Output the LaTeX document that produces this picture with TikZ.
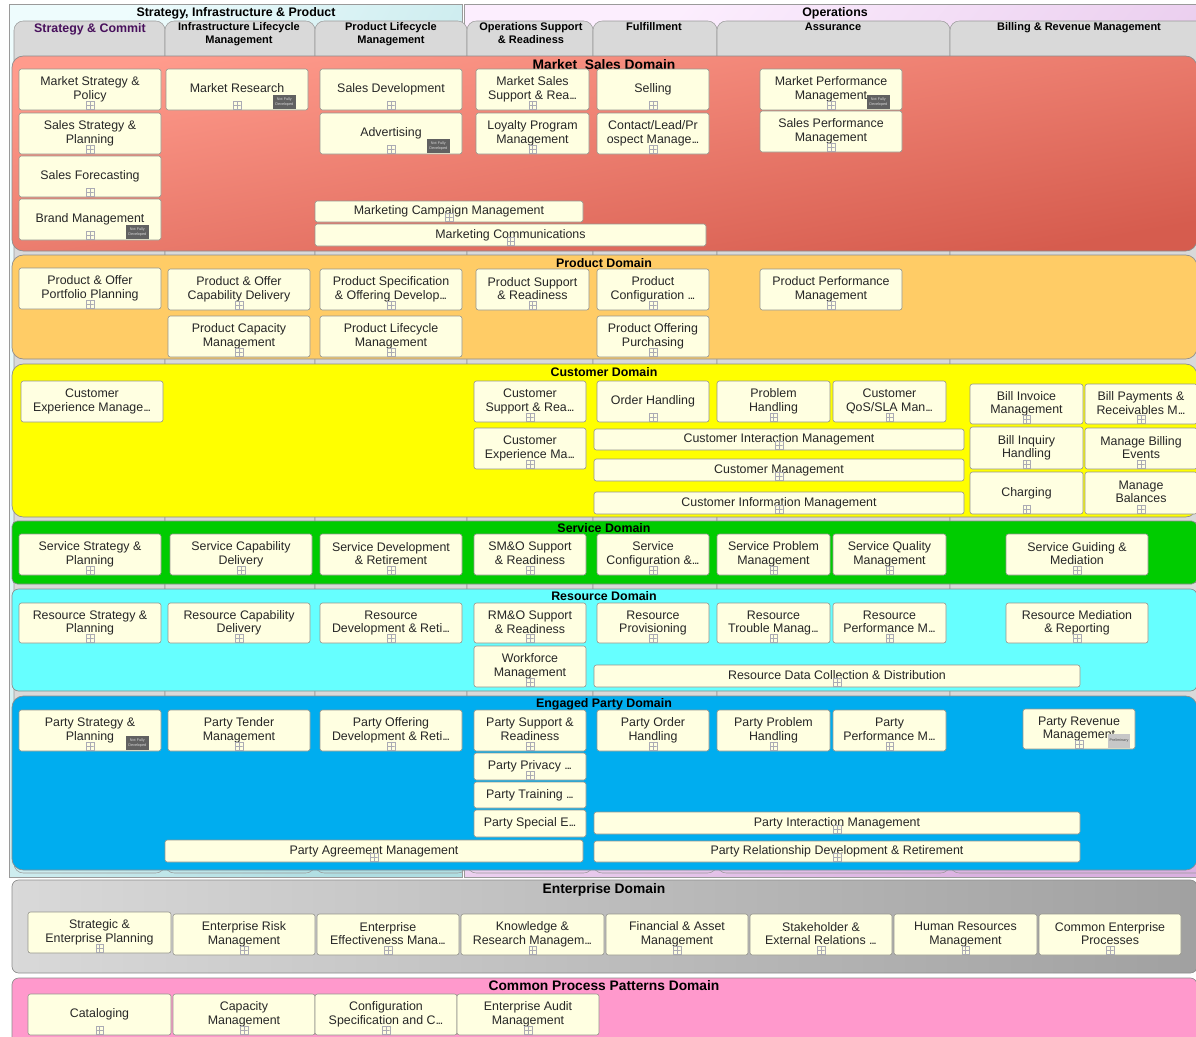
\documentclass[tikz,border=0pt]{standalone}
\usepackage{fontspec}
\setmainfont{Liberation Sans}
\definecolor{procfill}{HTML}{FFFFE1}
\definecolor{procline}{HTML}{96968E}
\definecolor{lanefill}{HTML}{D9D9D9}
\definecolor{laneline}{HTML}{9A9A9A}
\definecolor{domline}{HTML}{8C8C8C}
\definecolor{iconline}{HTML}{ABABB4}
\definecolor{mktA}{RGB}{255,155,140}
\definecolor{mktB}{RGB}{214,92,78}
\definecolor{prdC}{RGB}{255,204,102}
\definecolor{cusC}{RGB}{255,255,0}
\definecolor{svcC}{RGB}{0,204,0}
\definecolor{resC}{RGB}{102,255,255}
\definecolor{ptyC}{RGB}{0,173,239}
\definecolor{comC}{RGB}{255,153,204}
\definecolor{scC}{RGB}{72,16,92}
\definecolor{sipA}{RGB}{238,252,253}
\definecolor{sipB}{RGB}{175,222,226}
\definecolor{opsA}{RGB}{252,238,254}
\definecolor{opsB}{RGB}{218,176,224}
\newcommand{\el}{.\kern-1pt.\kern-1pt.}
\newcommand{\pstrut}{\rule[-1.65pt]{0pt}{8.15pt}}
\newcommand{\lstrut}{\rule[-2pt]{0pt}{7pt}}
\tikzset{
  x=0.75pt,y=-0.75pt,
  proc/.style={draw=procline,line width=0.45pt,fill=procfill,rounded corners=1.8pt,inner sep=0pt,align=center,text=black!85,font=\fontsize{9.3}{10.15}\selectfont,
     execute at begin node=\pstrut,execute at end node=\pstrut},
  xicon/.style={draw=iconline,line width=0.3pt,fill=none,inner sep=0pt,minimum width=5.6pt,minimum height=5.6pt,
     path picture={\draw[iconline,line width=0.3pt] (path picture bounding box.north)--(path picture bounding box.south) (path picture bounding box.west)--(path picture bounding box.east);}},
  badgeN/.style={fill=black!62,inner sep=0pt,minimum width=17pt,minimum height=10.5pt,align=center,text=white!85!black,font=\fontsize{2.8}{3.5}\selectfont},
  badgeP/.style={fill=black!22,inner sep=0pt,minimum width=17pt,minimum height=10.5pt,align=center,text=black!70,font=\fontsize{2.8}{3.5}\selectfont},
  dombox/.style={draw=domline,line width=0.5pt,rounded corners=8.5pt,inner sep=0pt},
  domtitle/.style={inner sep=0pt,anchor=base,text=black,font=\fontsize{9.3}{11}\selectfont\bfseries},
  bigtitle/.style={inner sep=0pt,anchor=base,text=black,font=\fontsize{10.35}{12}\selectfont\bfseries},
  lanebox/.style={draw=laneline,line width=0.4pt,rounded corners=7pt,inner sep=0pt},
  lanetitle/.style={inner sep=0pt,anchor=north,align=center,text=black,font=\fontsize{8.25}{9.5}\selectfont\bfseries,
     execute at begin node=\lstrut,execute at end node=\lstrut},
  grpbox/.style={draw=laneline,line width=0.5pt,inner sep=0pt},
}
% rectangle node from pixel corners: name, x1,y1,x2,y2, options, text
\newcommand{\rnode}[7]{\node[#6,minimum width={(#4-#2)*0.75pt},minimum height={(#5-#3)*0.75pt}] (#1) at ({(#2+#4)/2},{(#3+#5)/2}) {#7};}
\newcommand{\pbn}[6]{\rnode{#1}{#2}{#3}{#4}{#5}{proc}{#6}}
\newcommand{\pb}[6]{\rnode{#1}{#2}{#3}{#4}{#5}{proc}{#6}\node[xicon] (#1-x) at ([yshift=3.9pt]#1.south) {};}
\newcommand{\nfd}[1]{\node[badgeN] (#1-b) at ([xshift=-18pt,yshift=6pt]#1.south east) {Not Fully\\Developed};}
\newcommand{\lanecol}[3]{\fill[lanefill,rounded corners=7pt] (#2,21) rectangle (#3,800);\rnode{#1}{#2}{21}{#3}{873}{lanebox}{}}
\begin{document}
\begin{tikzpicture}
\useasboundingbox (0,0) rectangle (1196,1036);
\clip (0,0) rectangle (1196,1036);
\fill[white] (0,0) rectangle (1196,1036);
% groups
\rnode{gsip}{9}{4}{462}{877}{grpbox,left color=sipA,right color=sipB,shading angle=62}{}
\rnode{gops}{464}{4}{1230}{877}{grpbox,left color=opsA,right color=opsB,shading angle=50}{}
\node[domtitle] (gsipt) at (236,16.5) {Strategy, Infrastructure \& Product};
\node[domtitle] (gopst) at (835,16.5) {Operations};
% lanes
\lanecol{l1}{14}{165}
\lanecol{l2}{165}{315}
\lanecol{l3}{315}{467}
\lanecol{l4}{467}{593}
\lanecol{l5}{593}{717}
\lanecol{l6}{717}{950}
\lanecol{l7}{950}{1230}
\node[lanetitle,font=\fontsize{9.3}{11}\selectfont\bfseries,text=scC] (l1t) at (90,23) {Strategy \& Commit};
\node[lanetitle] (l2t) at (239,22.7) {Infrastructure Lifecycle\\Management};
\node[lanetitle] (l3t) at (391,22.7) {Product Lifecycle\\Management};
\node[lanetitle] (l4t) at (531,22.7) {Operations Support\\\& Readiness};
\node[lanetitle] (l5t) at (654,22.7) {Fulfillment};
\node[lanetitle] (l6t) at (833,22.7) {Assurance};
\node[lanetitle] (l7t) at (1079,22.7) {Billing \& Revenue Management};
% domains
\rnode{dmkt}{12}{56}{1197}{251}{dombox,left color=mktA,right color=mktB,shading angle=10}{}
\rnode{dprd}{12}{255}{1197}{359}{dombox,fill=prdC}{}
\rnode{dcus}{12}{364}{1197}{517}{dombox,fill=cusC}{}
\rnode{dsvc}{12}{521}{1197}{584}{dombox,rounded corners=4pt,fill=svcC}{}
\rnode{dres}{12}{589}{1197}{691}{dombox,rounded corners=5pt,fill=resC}{}
\rnode{dpty}{12}{696}{1197}{870}{dombox,fill=ptyC}{}
\rnode{dent}{12}{880}{1197}{973}{dombox,rounded corners=5pt,left color=black!15,right color=black!37}{}
\rnode{dcom}{12}{978}{1197}{1050}{dombox,rounded corners=5pt,fill=comC}{}
\node[bigtitle] (dmktt) at (604,69) {Market\ \ Sales Domain};
\node[domtitle] (dprdt) at (604,267.5) {Product Domain};
\node[domtitle] (dcust) at (604,376.5) {Customer Domain};
\node[domtitle] (dsvct) at (604,532.5) {Service Domain};
\node[domtitle] (drest) at (604,600.5) {Resource Domain};
\node[domtitle] (dptyt) at (604,707.5) {Engaged Party Domain};
\node[bigtitle] (dentt) at (604,893) {Enterprise Domain};
\node[bigtitle] (dcomt) at (604,990) {Common Process Patterns Domain};
% Market Sales
\pb{m1}{19}{69}{161}{110}{Market Strategy \&\\Policy}
\pb{m2}{19}{113}{161}{154}{Sales Strategy \&\\Planning}
\pb{m3}{19}{156}{161}{197}{Sales Forecasting}
\pb{m4}{19}{199}{161}{240}{Brand Management}\nfd{m4}
\pb{m5}{166}{69}{308}{110}{Market Research}\nfd{m5}
\pb{m6}{320}{69}{462}{110}{Sales Development}
\pb{m7}{320}{113}{462}{154}{Advertising}\nfd{m7}
\pb{m8}{476}{69}{589}{110}{Market Sales\\Support \& Rea\el}
\pb{m9}{597}{69}{709}{110}{Selling}
\pb{m10}{476}{113}{589}{154}{Loyalty Program\\Management}
\pb{m11}{597}{113}{709}{154}{Contact/Lead/Pr\\ospect Manage\el}
\pb{m12}{760}{69}{902}{110}{Market Performance\\Management}\nfd{m12}
\pb{m13}{760}{111}{902}{152}{Sales Performance\\Management}
\pb{m14}{315}{201}{583}{222}{Marketing Campaign Management}
\pb{m15}{315}{224}{706}{246}{Marketing Communications}
% Product
\pb{p1}{19}{268}{161}{309}{Product \& Offer\\Portfolio Planning}
\pb{p2}{168}{269}{310}{310}{Product \& Offer\\Capability Delivery}
\pb{p3}{168}{316}{310}{357}{Product Capacity\\Management}
\pb{p4}{320}{269}{462}{310}{Product Specification\\\& Offering Develop\el}
\pb{p5}{320}{316}{462}{357}{Product Lifecycle\\Management}
\pb{p6}{476}{269}{589}{310}{Product Support\\\& Readiness}
\pb{p7}{597}{269}{709}{310}{Product\\Configuration \el}
\pb{p8}{597}{316}{709}{357}{Product Offering\\Purchasing}
\pb{p9}{760}{269}{902}{310}{Product Performance\\Management}
% Customer
\pbn{c1}{21}{381}{163}{422}{Customer\\Experience Manage\el}
\pb{c2}{474}{381}{586}{422}{Customer\\Support \& Rea\el}
\pb{c3}{474}{428}{586}{469}{Customer\\Experience Ma\el}
\pb{c4}{597}{381}{709}{422}{Order Handling}
\pb{c5}{717}{381}{830}{422}{Problem\\Handling}
\pb{c6}{833}{381}{946}{422}{Customer\\QoS/SLA Man\el}
\pb{c7}{594}{429}{964}{450}{Customer Interaction Management}
\pb{c8}{594}{459}{964}{481}{Customer Management}
\pb{c9}{594}{492}{964}{514}{Customer Information Management}
\pb{c10}{970}{384}{1083}{424}{Bill Invoice\\Management}
\pb{c11}{1085}{384}{1197}{424}{Bill Payments \&\\Receivables M\el}
\pb{c12}{970}{427}{1083}{469}{Bill Inquiry\\Handling}
\pb{c13}{1085}{428}{1197}{469}{Manage Billing\\Events}
\pb{c14}{970}{472}{1083}{514}{Charging}
\pb{c15}{1085}{472}{1197}{514}{Manage\\Balances}
% Service
\pb{s1}{19}{534}{161}{575}{Service Strategy \&\\Planning}
\pb{s2}{170}{534}{312}{575}{Service Capability\\Delivery}
\pb{s3}{320}{534}{462}{575}{Service Development\\\& Retirement}
\pb{s4}{474}{534}{586}{575}{SM\&O Support\\\& Readiness}
\pb{s5}{597}{534}{709}{575}{Service\\Configuration \&\el}
\pb{s6}{717}{534}{830}{575}{Service Problem\\Management}
\pb{s7}{833}{534}{946}{575}{Service Quality\\Management}
\pb{s8}{1006}{534}{1148}{575}{Service Guiding \&\\Mediation}
% Resource
\pb{r1}{19}{603}{161}{643}{Resource Strategy \&\\Planning}
\pb{r2}{168}{603}{310}{643}{Resource Capability\\Delivery}
\pb{r3}{320}{603}{462}{643}{Resource\\Development \& Reti\el}
\pb{r4}{474}{603}{586}{643}{RM\&O Support\\\& Readiness}
\pb{r5}{597}{603}{709}{643}{Resource\\Provisioning}
\pb{r6}{717}{603}{830}{643}{Resource\\Trouble Manag\el}
\pb{r7}{833}{603}{946}{643}{Resource\\Performance M\el}
\pb{r8}{1006}{603}{1148}{643}{Resource Mediation\\\& Reporting}
\pb{r9}{474}{646}{586}{687}{Workforce\\Management}
\pb{r10}{594}{665}{1080}{687}{Resource Data Collection \& Distribution}
% Engaged Party
\pb{e1}{19}{710}{161}{751}{Party Strategy \&\\Planning}\nfd{e1}
\pb{e2}{168}{710}{310}{751}{Party Tender\\Management}
\pb{e3}{320}{710}{462}{751}{Party Offering\\Development \& Reti\el}
\pb{e4}{474}{710}{586}{751}{Party Support \&\\Readiness}
\pb{e5}{597}{710}{709}{751}{Party Order\\Handling}
\pb{e6}{717}{710}{830}{751}{Party Problem\\Handling}
\pb{e7}{833}{710}{946}{751}{Party\\Performance M\el}
\pb{e8}{1023}{709}{1135}{749}{Party Revenue\\Management}
\node[badgeP] (e8-b) at ([xshift=-12.2pt,yshift=6.4pt]e8.south east) {Preliminary};
\pb{e9}{474}{753}{586}{780}{Party Privacy \el}
\pbn{e10}{474}{782}{586}{808}{Party Training \el}
\pbn{e11}{474}{810}{586}{837}{Party Special E\el}
\pb{e12}{594}{812}{1080}{834}{Party Interaction Management}
\pb{e13}{594}{841}{1080}{862}{Party Relationship Development \& Retirement}
\pb{e14}{165}{840}{583}{862}{Party Agreement Management}
% Enterprise
\pb{n1}{28}{912}{171}{953}{Strategic \&\\Enterprise Planning}
\pb{n2}{173}{914}{315}{955}{Enterprise Risk\\Management}
\pb{n3}{317}{914}{459}{955}{Enterprise\\Effectiveness Mana\el}
\pb{n4}{461}{914}{604}{955}{Knowledge \&\\Research Managem\el}
\pb{n5}{606}{914}{748}{955}{Financial \& Asset\\Management}
\pb{n6}{750}{914}{892}{955}{Stakeholder \&\\External Relations \el}
\pb{n7}{894}{914}{1037}{955}{Human Resources\\Management}
\pb{n8}{1039}{914}{1181}{955}{Common Enterprise\\Processes}
% Common Process Patterns
\pb{k1}{28}{994}{171}{1035}{Cataloging}
\pb{k2}{173}{994}{315}{1035}{Capacity\\Management}
\pb{k3}{315}{994}{457}{1035}{Configuration\\Specification and C\el}
\pb{k4}{457}{994}{599}{1035}{Enterprise Audit\\Management}
\end{tikzpicture}
\end{document}
